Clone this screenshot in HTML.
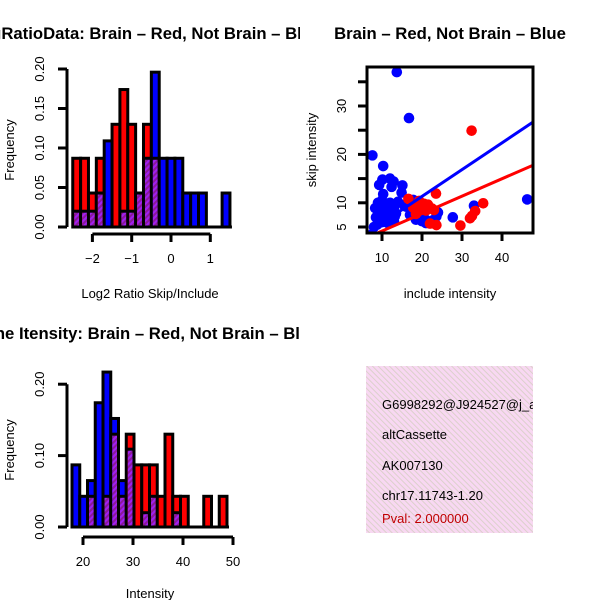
<!DOCTYPE html>
<html><head><meta charset="utf-8"><style>
html,body{margin:0;padding:0;background:#fff}
svg{display:block;font-family:"Liberation Sans",sans-serif}
</style></head><body>
<svg id="s" width="600" height="600" viewBox="0 0 600 600">
<defs>
<pattern id="hatch" width="4" height="4" patternUnits="userSpaceOnUse" patternTransform="rotate(45)">
<rect width="4" height="4" fill="#a020f0"/><rect width="2" height="4" fill="#8a1a9a"/>
</pattern>
<pattern id="pinkhatch" width="4" height="4" patternUnits="userSpaceOnUse" patternTransform="rotate(-45)">
<rect width="4" height="4" fill="#f8d8f2"/><rect width="1" height="4" fill="#dcd0cc"/>
</pattern>
<clipPath id="scClip"><rect x="367" y="67" width="166" height="166"/></clipPath>
<clipPath id="boxClip"><rect x="366" y="366" width="167" height="167"/></clipPath>
<clipPath id="leftClip"><rect x="0" y="0" width="300" height="600"/></clipPath>
</defs>
<g clip-path="url(#leftClip)">
<text x="146" y="39" text-anchor="middle" font-weight="bold" font-size="16.7">LogRatioData: Brain – Red, Not Brain – Blue</text>
<text x="146" y="339" text-anchor="middle" font-weight="bold" font-size="16.7">Gene Itensity: Brain – Red, Not Brain – Blue</text>
</g>
<text x="450" y="39" text-anchor="middle" font-weight="bold" font-size="16.7">Brain – Red, Not Brain – Blue</text>
<g id="h1"></g>
<g id="h2"></g>
<g id="sc"></g>
<rect x="366" y="366" width="167" height="167" fill="url(#pinkhatch)"/>
<g clip-path="url(#boxClip)" font-size="13">
<text x="382" y="409">G6998292@J924527@j_at</text>
<text x="382" y="439">altCassette</text>
<text x="382" y="470">AK007130</text>
<text x="382" y="500">chr17.11743-1.20</text>
<text x="382" y="523" fill="#c00000">Pval: 2.000000</text>
</g>
</svg>
<script>
// Ratio histogram data (bins of 0.2 from -2.5)
const ratioBinStart = -2.5, ratioBinW = 0.2;
const ratioRed  = [0.087,0.087,0.043,0.087,0,0.13,0.174,0.13,0.043,0.13,0.087,0,0,0,0,0,0,0,0,0];
const ratioBlue = [0.02,0.02,0.02,0.043,0.109,0,0.02,0.02,0.043,0.087,0.196,0.087,0.087,0.087,0.043,0.043,0.043,0,0,0.043];
const ratioXTicks = [-2,-1,0,1];
const ratioYTicks = ["0.00","0.05","0.10","0.15","0.20"];
// Intensity histogram data
const intBinStart = 17.8, intBinW = 1.55;
const intRed  = [0,0,0.043,0,0.043,0.13,0.043,0.13,0.087,0.087,0.087,0.043,0.13,0.043,0.043,0,0,0.043,0,0.043];
const intBlue = [0.087,0.043,0.065,0.174,0.217,0.152,0.065,0.109,0,0.02,0.043,0,0,0.02,0,0,0,0,0,0];
const intXTicks = [20,30,40,50];
const intYTicks = ["0.00","0.10","0.20"];
// Scatter data
const blueX = [13.7,16.75,7.6,10.3,9.3,10.1,12,12.9,15.1,14.9,12.4,10.3,8.3,46.3,33,27.7,17,17.8,19.3,20.6,21.5,23.6,8,9,10,11,12,13,14,9.5,10.5,11.5,12.5,13.5,8.5,9.8,11,12.2,13.2,15.5,16,10,11.5,13,9.2,18.5,20,22.5,24,8.8,19.8,21];
const blueY = [37,27.5,19.8,17.6,13.7,14.8,15,14.4,13.6,12.1,13.3,11.8,8.9,10.7,9.4,7,7.5,10.6,10,6.8,6,7.2,5,10,10.5,9.5,10,9,10.2,8,8.5,7.5,8.2,7.8,7,6.8,6.5,7,7.2,9.5,9.2,6,5.8,6.2,6.2,6.5,6.2,6.3,8,5.5,9.5,5.8];
const redX = [32.4,35.3,33.3,32,29.6,23.6,22,23.5,21.5,19.3,16.6,17.8,19.2,21,23,18.5,20.5,22.5,32.5];
const redY = [24.9,9.9,8.3,6.8,5.3,5.4,5.7,11.9,9.6,10.4,10.8,9,8.5,8.4,8.5,7.7,9.8,8.8,7.3];
const blueFit = [0.27,0.553], redFit = [0.57,0.36];
const scXTicks = [10,20,30,40];
const scYTicks = [5,10,15,20,25,30,35];
const scYLabels = [5,10,20,30];

const NS="http://www.w3.org/2000/svg";
function mk(parent,tag,attrs){const e=document.createElementNS(NS,tag);for(const k in attrs)e.setAttribute(k,attrs[k]);parent.appendChild(e);return e;}

function hist(g,cfg){
  const sx=v=>cfg.x0+(v-cfg.d0)*cfg.kx, sy=v=>cfg.y0-v*cfg.ky;
  const n=cfg.red.length;
  for(let i=0;i<n;i++){
    const r=cfg.red[i], b=cfg.blue[i], hi=Math.max(r,b), lo=Math.min(r,b);
    if(hi<=0) continue;
    const xa=sx(cfg.start+i*cfg.w), xb=sx(cfg.start+(i+1)*cfg.w);
    const bar=mk(g,'rect',{x:xa,y:sy(hi),width:xb-xa,height:sy(0)-sy(hi),fill:r>=b?'#ff0000':'#0000ff',stroke:'#000','stroke-width':3});
    
    
    if(lo>0){
      const ov=mk(g,'rect',{x:xa+1.5,y:sy(lo),width:xb-xa-3,height:sy(0)-sy(lo)-1.5,fill:'url(#hatch)'});
      
      
      mk(g,'line',{x1:xa,x2:xb,y1:sy(lo),y2:sy(lo),stroke:'#000','stroke-width':3});
    }
  }
  mk(g,'line',{x1:sx(cfg.start),x2:sx(cfg.start+n*cfg.w)+2,y1:sy(0),y2:sy(0),stroke:'#000','stroke-width':3});
  const yt=cfg.yt.map(Number);
  mk(g,'line',{x1:67,x2:67,y1:sy(yt[0]),y2:sy(yt[yt.length-1]),stroke:'#000','stroke-width':3});
  cfg.yt.forEach(t=>{const y=sy(+t);mk(g,'line',{x1:58,x2:67,y1:y,y2:y,stroke:'#000','stroke-width':3});
    const tx=mk(g,'text',{x:0,y:0,transform:`translate(44,${y}) rotate(-90)`,'text-anchor':'middle','font-size':13});tx.textContent=t;
    });
  const xa=cfg.xAxisY;
  mk(g,'line',{x1:sx(cfg.xt[0]),x2:sx(cfg.xt[cfg.xt.length-1]),y1:xa,y2:xa,stroke:'#000','stroke-width':3});
  cfg.xt.forEach(t=>{const x=sx(t);mk(g,'line',{x1:x,x2:x,y1:xa,y2:xa+8,stroke:'#000','stroke-width':3});
    const tx=mk(g,'text',{x:x,y:xa+29,'text-anchor':'middle','font-size':13});tx.textContent=String(t).replace('-','−');
    });
  const yl=mk(g,'text',{transform:`translate(14,${cfg.ylc}) rotate(-90)`,'text-anchor':'middle','font-size':13});yl.textContent='Frequency';
  
  const xl=mk(g,'text',{x:150,y:cfg.xly,'text-anchor':'middle','font-size':13});xl.textContent=cfg.xlab;
  
}
hist(document.getElementById('h1'),{red:ratioRed,blue:ratioBlue,start:ratioBinStart,w:ratioBinW,x0:171,d0:0,kx:39.3,y0:227,ky:790,yt:ratioYTicks,xt:ratioXTicks,xAxisY:234,ylc:150,xly:298,xlab:'Log2 Ratio Skip/Include'});
hist(document.getElementById('h2'),{red:intRed,blue:intBlue,start:intBinStart,w:intBinW,x0:83,d0:20,kx:5,y0:527,ky:714,yt:intYTicks,xt:intXTicks,xAxisY:537,ylc:450,xly:598,xlab:'Intensity'});

(function(){
  const g=document.getElementById('sc');
  const sx=v=>382+(v-10)*4, sy=v=>227-(v-5)*4.84;
  const cg=mk(g,'g',{'clip-path':'url(#scClip)'});
  blueX.forEach((x,i)=>{const c=mk(cg,'circle',{cx:sx(x),cy:sy(blueY[i]),r:5.3,fill:'#0000ff'});
    });
  redX.forEach((x,i)=>{const c=mk(cg,'circle',{cx:sx(x),cy:sy(redY[i]),r:5.3,fill:'#ff0000'});
    });
  [[blueFit,'#0000ff','blue-fit-line'],[redFit,'#ff0000','red-fit-line']].forEach(([f,col,nm])=>{
    const l=mk(cg,'line',{x1:sx(2),y1:sy(f[0]+f[1]*2),x2:sx(60),y2:sy(f[0]+f[1]*60),stroke:col,'stroke-width':3});
    });
  mk(g,'rect',{x:367,y:67,width:166,height:166,fill:'none',stroke:'#000','stroke-width':3});
  scXTicks.forEach(t=>{const x=sx(t);mk(g,'line',{x1:x,x2:x,y1:233,y2:241,stroke:'#000','stroke-width':3});
    const tx=mk(g,'text',{x:x,y:262,'text-anchor':'middle','font-size':13});tx.textContent=t;
    });
  scYTicks.forEach(t=>{const y=sy(t);mk(g,'line',{x1:358,x2:367,y1:y,y2:y,stroke:'#000','stroke-width':3});});
  scYLabels.forEach(t=>{const y=sy(t);const tx=mk(g,'text',{transform:`translate(346,${y}) rotate(-90)`,'text-anchor':'middle','font-size':13});tx.textContent=t;
    });
  const yl=mk(g,'text',{transform:'translate(316,150) rotate(-90)','text-anchor':'middle','font-size':13});yl.textContent='skip intensity';
  
  const xl=mk(g,'text',{x:450,y:298,'text-anchor':'middle','font-size':13});xl.textContent='include intensity';
  
})();
</script>
</body></html>
